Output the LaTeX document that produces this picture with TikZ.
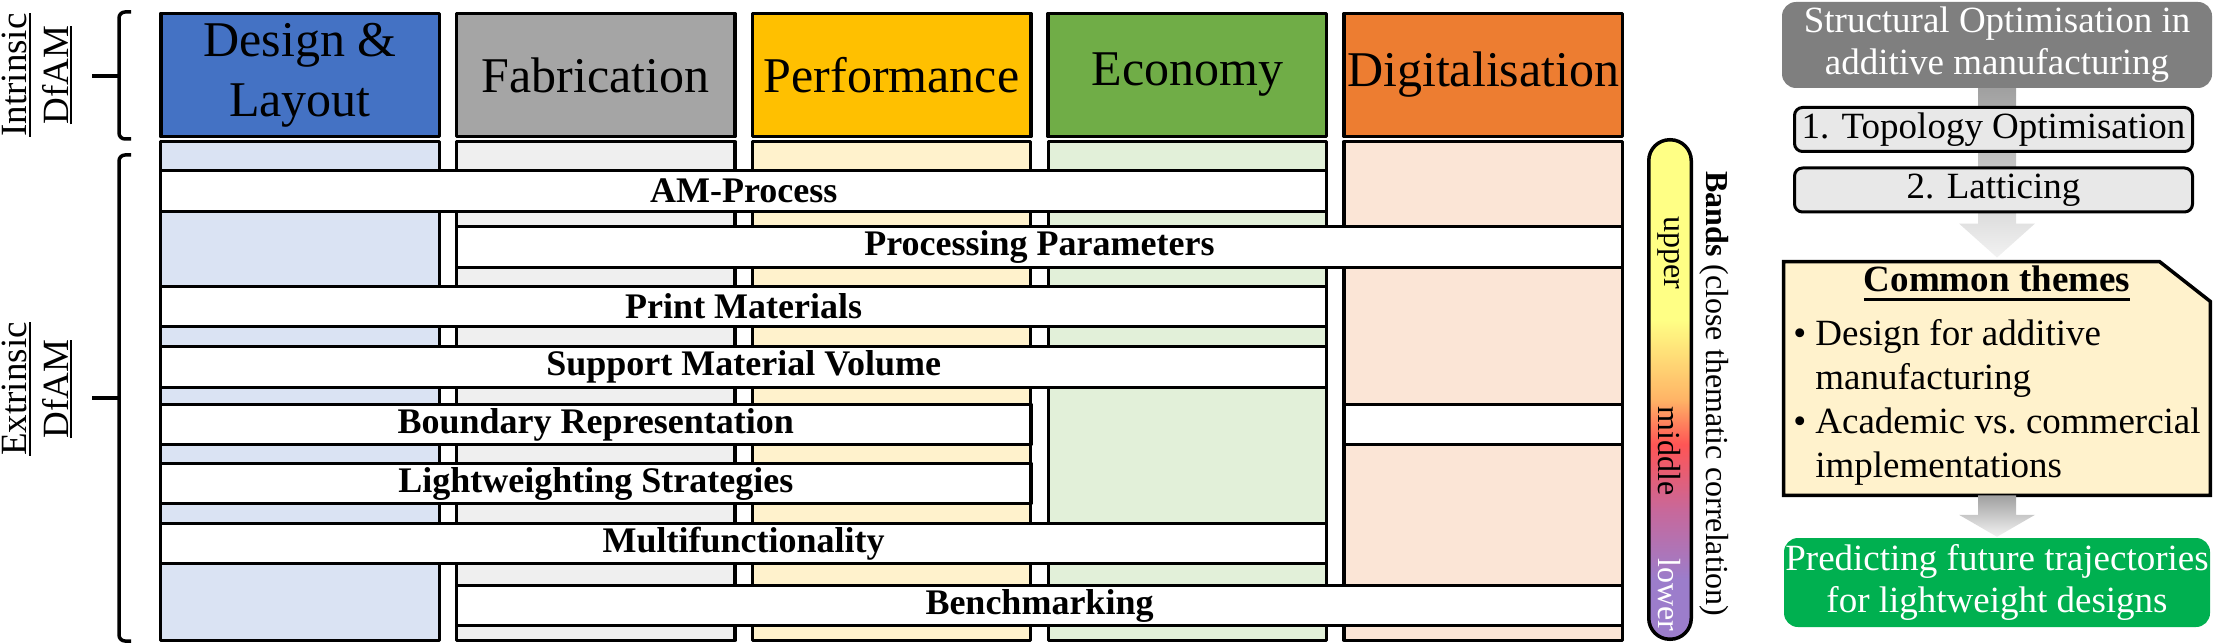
\documentclass[tikz,border=0pt]{standalone}
\usepackage{fontspec}
\setmainfont{Liberation Serif}
\usetikzlibrary{calc,backgrounds}

\definecolor{ink}{HTML}{000000}
\definecolor{dlayout}{HTML}{4472C4}
\definecolor{fabgrey}{HTML}{A5A5A5}
\definecolor{perfgold}{HTML}{FFC000}
\definecolor{econgreen}{HTML}{70AD47}
\definecolor{digiorange}{HTML}{ED7D31}
\definecolor{dlayoutpale}{HTML}{DAE3F3}
\definecolor{fabpale}{HTML}{EFEFEF}
\definecolor{perfpale}{HTML}{FFF2CC}
\definecolor{econpale}{HTML}{E2F0D9}
\definecolor{digipale}{HTML}{FBE5D6}
\definecolor{somgrey}{HTML}{7F7F7F}
\definecolor{stepgrey}{HTML}{E8E8E8}
\definecolor{themefill}{HTML}{FFF2CC}
\definecolor{futuregreen}{HTML}{00B050}
\definecolor{arrowdark}{HTML}{A0A0A0}
\definecolor{arrowpale}{HTML}{F2F2F2}
\definecolor{bandyellow}{HTML}{FFFF85}
\definecolor{bandorange}{HTML}{FFB466}
\definecolor{bandred}{HTML}{FF5555}
\definecolor{bandmauve}{HTML}{C8689A}
\definecolor{bandpurple}{HTML}{9C7DCB}

% yellow at the top, red round the middle, purple at the foot
\pgfdeclareverticalshading{bandshade}{100bp}{color(0bp)=(bandpurple); color(31bp)=(bandpurple);
  color(38bp)=(bandmauve); color(44.5bp)=(bandred); color(49bp)=(bandorange);
  color(57bp)=(bandyellow); color(100bp)=(bandyellow)}

\newcommand{\headfont}{\fontsize{50}{60}\selectfont}
\newcommand{\barfont}{\fontsize{36}{42}\selectfont\bfseries}
\newcommand{\sidefont}{\fontsize{37}{42}\selectfont}
\newcommand{\bandfont}{\fontsize{32}{38}\selectfont}
\newcommand{\lineunder}[3]{\leavevmode\setbox0=\hbox{#3}\rlap{\rule[-#1]{\wd0}{#2}}\box0}
\tikzset{
  every picture/.style = {line join=round},
  head/.style      = {draw=ink, line width=3.5pt, minimum width=278.5, minimum height=123,
                      inner sep=0pt, font=\headfont, align=center},
  column/.style    = {draw=ink, line width=3.2pt, minimum width=278.5, minimum height=498.5, inner sep=0pt},
  bar/.style       = {draw=ink, line width=3.2pt, fill=white, minimum height=40.5, inner sep=0pt, font=\barfont},
  brace/.style     = {draw=ink, line width=3.5pt, rounded corners=6pt},
  sidelabel/.style = {rotate=90, align=center, font=\sidefont, inner sep=0pt},
  bandbar/.style   = {draw=ink, line width=3.5pt, shade, shading=bandshade, rounded corners=21pt,
                      minimum width=42.5, minimum height=499.5, inner sep=0pt},
  bandword/.style  = {rotate=-90, font=\bandfont, inner sep=0pt},
  sombox/.style    = {fill=somgrey, text=white, rounded corners=14pt, minimum width=430, minimum height=86,
                      inner sep=0pt, align=center, font=\fontsize{37}{42}\selectfont},
  stepbox/.style   = {draw=ink, line width=3pt, fill=stepgrey, rounded corners=8pt,
                      minimum width=398, minimum height=44, inner sep=0pt, font=\sidefont},
  themetext/.style = {minimum width=426.5, minimum height=233.5, inner sep=0pt, align=center,
                      font=\fontsize{37}{44}\selectfont},
  futurebox/.style = {fill=futuregreen, text=white, rounded corners=14pt, minimum width=426, minimum height=89,
                      inner sep=0pt, align=center, font=\sidefont},
  blockarrow/.style = {top color=arrowdark, bottom color=arrowpale},
}

\begin{document}
\begin{tikzpicture}[x=1pt, y=-1pt]
  \useasboundingbox (0,0) rectangle (2213,644);
  \def\colL{159}\def\colP{295.8}\def\colW{282}   % left edge, pitch and width of a column (px)

  % ---------- left: intrinsic / extrinsic brackets -----------------------------
  \node[sidelabel] (intrinsic) at (37,75) {\lineunder{5pt}{1.8pt}{Intrinsic}\\\lineunder{4pt}{1.8pt}{DfAM}};
  \node[sidelabel] (extrinsic) at (37,389) {\lineunder{5pt}{1.8pt}{Extrinsic}\\\lineunder{4pt}{1.8pt}{DfAM}};
  \draw[brace] (131,12) -- (119,12) -- (119,139) -- (131,139);
  \draw[brace] (92,76) -- (119,76);
  \draw[brace] (131,155) -- (119,155) -- (119,641) -- (131,641);
  \draw[brace] (92,398) -- (119,398);

  % ---------- the five themes: header boxes over pale columns -----------------
  \foreach \i/\name/\hue/\pale/\txt in {
      0/design/dlayout/dlayoutpale/{Design \&\\Layout},
      1/fabrication/fabgrey/fabpale/Fabrication,
      2/performance/perfgold/perfpale/Performance,
      3/economy/econgreen/econpale/Economy,
      4/digital/digiorange/digipale/Digitalisation}{
    \node[head, fill=\hue] (\name) at ({\colL+\i*\colP+\colW/2},75) {\txt};
    \node[column, fill=\pale] (col-\name) at ({\colL+\i*\colP+\colW/2},391) {};
  }

  % ---------- bands running across the columns --------------------------------
  \foreach \a/\b/\yc/\name/\txt in {
      0/3/191/amproc/AM-Process,
      1/4/247/params/Processing Parameters,
      0/3/306.5/materials/Print Materials,
      0/3/367/support/Support Material Volume,
      0/2/424.5/brep/Boundary Representation,
      0/2/483.5/lightw/Lightweighting Strategies,
      0/3/543.5/multif/Multifunctionality,
      1/4/605.5/bench/Benchmarking}{
    \pgfmathsetmacro{\xa}{\colL+\a*\colP}
    \pgfmathsetmacro{\xb}{\colL+\b*\colP+\colW}
    \node[bar, minimum width={\xb-\xa-3.2}] (\name) at ({(\xa+\xb)/2},\yc) {\txt};
  }
  \node[bar, minimum width=278.5] (brep-digital) at (col-digital |- brep) {};

  % ---------- colour key -------------------------------------------------------
  \node[bandbar] (bands) at (1670,389.5) {};
  \node[bandword] (upper) at (1669,253) {upper};
  \node[bandword] (middle) at (1669,451) {middle};
  \node[bandword, text=white] (lower) at (1669,595) {lower};
  \node[bandword] (bandsnote) at (1714,394) {\textbf{Bands} (close thematic correlation)};

  % ---------- right: the review's path -----------------------------------------
  \node[sombox] (som) at (1997,45) {Structural Optimisation in\\additive manufacturing};
  \node[stepbox] (topology) at (1993.5,129.5) {1. Topology Optimisation};
  \node[stepbox] (latticing) at (1993.5,190) {2. Latticing};
  \node[themetext] (themes) at (1997,378.5) {\lineunder{9pt}{3pt}{\textbf{Common themes}}\\[10pt]
    \begin{tabular}[t]{@{}l@{\hspace{9pt}}l@{}}
      \textbullet & Design for additive\\
                  & manufacturing\\
      \textbullet & Academic vs.\ commercial\\
                  & implementations
    \end{tabular}};
  \node[futurebox] (future) at (1997,582.5) {Predicting future trajectories\\for lightweight designs};

  \begin{scope}[on background layer]
    \filldraw[fill=themefill, draw=ink, line width=3.5pt, line join=miter]
      (themes.south west) -- (themes.north west) -- ($(themes.north east)+(-51,0)$)
      -- ($(themes.north east)+(0,40)$) -- (themes.south east) -- cycle;
    % block arrows, drawn behind the step boxes
    \shade[blockarrow] ($(som.south)+(-19,0)$) -- ($(themes.north)+(-19,-38)$) -- ($(themes.north)+(-38,-38)$)
      -- ($(themes.north)+(0,-4)$) -- ($(themes.north)+(38,-38)$) -- ($(themes.north)+(19,-38)$)
      -- ($(som.south)+(19,0)$) -- cycle;
    \shade[blockarrow] ($(themes.south)+(-19,0)$) -- ($(future.north)+(-19,-23)$) -- ($(future.north)+(-38,-23)$)
      -- ($(future.north)+(0,-1)$) -- ($(future.north)+(38,-23)$) -- ($(future.north)+(19,-23)$)
      -- ($(themes.south)+(19,0)$) -- cycle;
  \end{scope}
\end{tikzpicture}
\end{document}
